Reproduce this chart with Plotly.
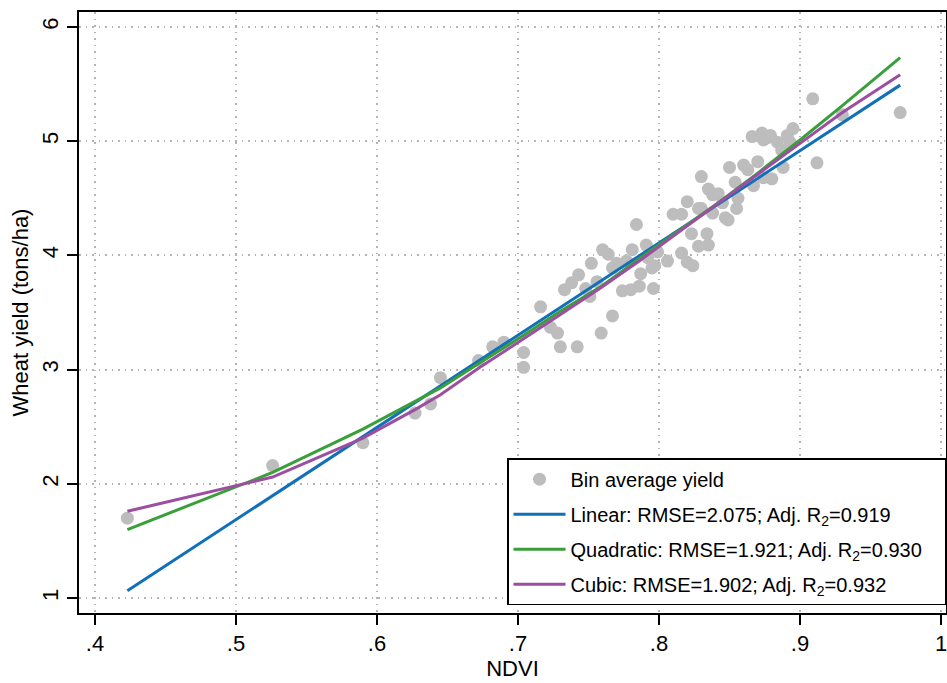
import plotly.graph_objects as go

# bin averages
ndvi = [0.423, 0.526, 0.590, 0.627, 0.638, 0.645, 0.672, 0.682, 0.690, 0.704,
        0.704, 0.716, 0.723, 0.728, 0.730, 0.742, 0.733, 0.738, 0.743, 0.748,
        0.751, 0.752, 0.756, 0.759, 0.760, 0.764, 0.767, 0.767, 0.770, 0.774,
        0.780, 0.777, 0.781, 0.784, 0.786, 0.787, 0.791, 0.792, 0.795, 0.797,
        0.796, 0.799, 0.806, 0.810, 0.816, 0.816, 0.820, 0.820, 0.824, 0.823,
        0.828, 0.828, 0.830, 0.830, 0.834, 0.835, 0.835, 0.838, 0.842, 0.838,
        0.845, 0.847, 0.849, 0.850, 0.854, 0.855, 0.856, 0.860, 0.863, 0.867,
        0.866, 0.870, 0.873, 0.877, 0.879, 0.874, 0.874, 0.880, 0.884, 0.887,
        0.888, 0.891, 0.893, 0.895, 0.909, 0.912, 0.930, 0.971]
yield_avg = [1.70, 2.16, 2.36, 2.62, 2.70, 2.93, 3.08, 3.20, 3.24, 3.15,
             3.02, 3.55, 3.37, 3.32, 3.20, 3.20, 3.70, 3.76, 3.83, 3.71,
             3.64, 3.93, 3.77, 3.32, 4.05, 4.01, 3.47, 3.89, 3.93, 3.69,
             3.70, 3.95, 4.05, 4.27, 3.73, 3.84, 4.09, 3.98, 3.89, 3.91,
             3.71, 4.03, 3.95, 4.36, 4.36, 4.02, 4.47, 3.94, 3.91, 4.19,
             4.08, 4.41, 4.41, 4.69, 4.19, 4.09, 4.58, 4.53, 4.54, 4.37,
             4.46, 4.33, 4.31, 4.77, 4.64, 4.41, 4.50, 4.79, 4.75, 4.61,
             5.04, 4.82, 5.07, 5.03, 5.05, 5.01, 4.68, 4.67, 4.99, 4.92,
             4.77, 5.05, 4.99, 5.11, 5.37, 4.81, 5.23, 5.25]

# fitted lines
lin_x = [0.423, 0.971]
lin_y = [1.065, 5.49]
fit_x = [0.423, 0.526, 0.590, 0.627, 0.645, 0.673, 0.704, 0.730, 0.758,
         0.787, 0.816, 0.843, 0.870, 0.900, 0.930, 0.971]
quad_y = [1.60, 2.10, 2.48, 2.72, 2.84, 3.06, 3.30, 3.51, 3.72,
          3.98, 4.23, 4.47, 4.72, 5.01, 5.31, 5.73]
cub_y = [1.76, 2.06, 2.40, 2.65, 2.78, 3.02, 3.27, 3.48, 3.71,
         3.96, 4.22, 4.46, 4.71, 4.98, 5.25, 5.58]

x_ticks = [0.4, 0.5, 0.6, 0.7, 0.8, 0.9, 1.0]
x_labels = ['.4', '.5', '.6', '.7', '.8', '.9', '1']
y_ticks = [1, 2, 3, 4, 5, 6]

FONT = 'Liberation Sans, Arial, sans-serif'
PAD = '\u00a0\u00a0\u00a0'  # a bit of room on the right of the legend text

fig = go.Figure()
fig.add_trace(go.Scatter(x=ndvi, y=yield_avg, mode='markers', name='Bin average yield',
                         marker=dict(color='#bdbdbd', size=13), legendgroup='a'))
fig.add_trace(go.Scatter(x=lin_x, y=lin_y, mode='lines', legendgroup='b',
                         name='Linear: RMSE=2.075; Adj. R<sub>2</sub>=0.919' + PAD,
                         line=dict(color='#1170b8', width=3)))
fig.add_trace(go.Scatter(x=fit_x, y=quad_y, mode='lines', legendgroup='c',
                         name='Quadratic: RMSE=1.921; Adj. R<sub>2</sub>=0.930' + PAD,
                         line=dict(color='#3a9e3a', width=3)))
fig.add_trace(go.Scatter(x=fit_x, y=cub_y, mode='lines', legendgroup='d',
                         name='Cubic: RMSE=1.902; Adj. R<sub>2</sub>=0.932' + PAD,
                         line=dict(color='#9c4fa0', width=3)))

axis_common = dict(
    showline=True, mirror=True, linecolor='black', linewidth=2,
    ticks='outside', ticklen=10, tickwidth=1.5, tickcolor='black',
    showgrid=True, gridcolor='#b4b4b4', griddash='1.5px,5px', gridwidth=1.5,
    zeroline=False, automargin=False, ticklabeloverflow='allow',
    tickfont=dict(size=22, color='black'),
)

fig.update_layout(
    width=947, height=683,
    margin=dict(l=79, r=1, t=12, b=70),
    plot_bgcolor='white', paper_bgcolor='white',
    font=dict(family=FONT, color='black'),
    showlegend=True,
    legend=dict(x=1, y=0.013, xanchor='right', yanchor='bottom',
                bgcolor='white', bordercolor='black', borderwidth=1.5,
                font=dict(size=20), tracegroupgap=6, itemwidth=52),
    xaxis=dict(axis_common, range=[0.3887, 1.0035], tickvals=x_ticks, ticktext=x_labels,
               title=dict(text='NDVI', font=dict(size=22), standoff=0)),
    yaxis=dict(axis_common, range=[0.87, 6.13], tickvals=y_ticks, tickangle=-90,
               title=dict(text='Wheat yield (tons/ha)', font=dict(size=22), standoff=4)),
)

# drop the default 8px page margin so the figure fills the window
fig.write_html("out.html", config={'displayModeBar': False},
               post_script="document.body.style.margin='0';")
